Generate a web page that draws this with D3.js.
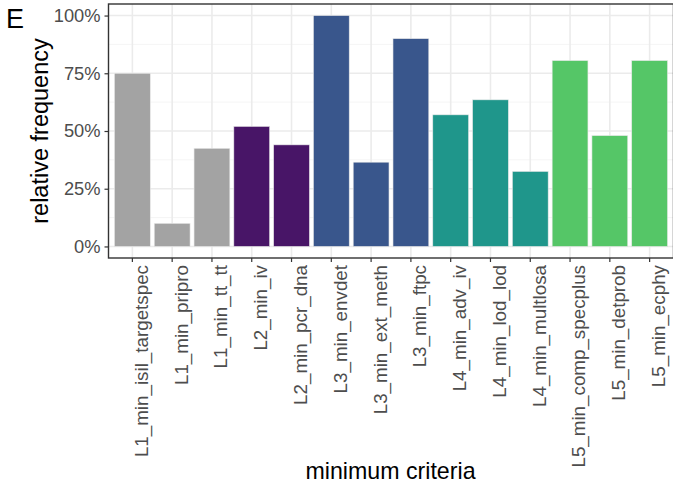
<!DOCTYPE html>
<html>
<head>
<meta charset="utf-8">
<script src="https://cdn.jsdelivr.net/npm/d3@7"></script>
<style>
  html, body { margin: 0; padding: 0; background: #fff; }
  svg { display: block; font-family: "Liberation Sans", Arial, sans-serif; }
</style>
</head>
<body>
<svg id="chart" width="673" height="488"></svg>
<script>
// Minimum criteria and their relative frequency
const criteria = [
  "L1_min_isil_targetspec", "L1_min_pripro", "L1_min_tt_tt",
  "L2_min_iv", "L2_min_pcr_dna",
  "L3_min_envdet", "L3_min_ext_meth", "L3_min_ftpc",
  "L4_min_adv_iv", "L4_min_lod_lod", "L4_min_multlosa",
  "L5_min_comp_specplus", "L5_min_detprob", "L5_min_ecphy"
];
const frequency = [0.75, 0.10, 0.425, 0.52, 0.44, 1.00, 0.365, 0.90, 0.57, 0.635, 0.325, 0.805, 0.48, 0.805];
const level = ["L1", "L1", "L1", "L2", "L2", "L3", "L3", "L3", "L4", "L4", "L4", "L5", "L5", "L5"];
const levels = ["L1", "L2", "L3", "L4", "L5"];
const levelColors = ["#A3A3A3", "#481567", "#39568C", "#1F968B", "#55C667"];
const yTicks = [0, 0.25, 0.5, 0.75, 1];
const yMinor = [0.125, 0.375, 0.625, 0.875];

const svg = d3.select("#chart");
const panel = { left: 108.5, right: 673.5, top: 4, bottom: 258 };

// Discrete axis: 0.6 units of expansion on each side, bars 0.9 units wide
const unit = (panel.right - panel.left) / (criteria.length - 1 + 1.2);
const x = d3.scaleBand()
  .domain(criteria)
  .range([panel.left + 0.1 * unit, panel.right - 0.1 * unit])
  .paddingInner(0.1).paddingOuter(0.05);

const y = d3.scaleLinear()
  .domain([-0.05, 1.05])
  .range([panel.bottom, panel.top]);

const color = d3.scaleOrdinal().domain(levels).range(levelColors);

// Grid
const grid = svg.append("g");
grid.selectAll("line.minor").data(yMinor).join("line")
  .attr("x1", panel.left).attr("x2", panel.right)
  .attr("y1", d => y(d)).attr("y2", d => y(d))
  .attr("stroke", "#F2F2F2").attr("stroke-width", 0.8);
grid.selectAll("line.majory").data(yTicks).join("line")
  .attr("x1", panel.left).attr("x2", panel.right)
  .attr("y1", d => y(d)).attr("y2", d => y(d))
  .attr("stroke", "#EBEBEB").attr("stroke-width", 1.6);
grid.selectAll("line.majorx").data(criteria).join("line")
  .attr("x1", d => x(d) + x.bandwidth() / 2).attr("x2", d => x(d) + x.bandwidth() / 2)
  .attr("y1", panel.top).attr("y2", panel.bottom)
  .attr("stroke", "#EBEBEB").attr("stroke-width", 1.6);

// Bars
svg.append("g").selectAll("rect").data(criteria).join("rect")
  .attr("x", d => x(d))
  .attr("width", x.bandwidth())
  .attr("y", (d, i) => y(frequency[i]))
  .attr("height", (d, i) => y(0) - y(frequency[i]))
  .attr("fill", (d, i) => color(level[i]))
  .attr("stroke", "#E8E8E8").attr("stroke-width", 0.6);

// Panel border
svg.append("rect")
  .attr("x", panel.left).attr("y", panel.top)
  .attr("width", panel.right - panel.left).attr("height", panel.bottom - panel.top)
  .attr("fill", "none").attr("stroke", "#333333").attr("stroke-width", 1.4);

// Axes
const yAxis = svg.append("g")
  .attr("transform", `translate(${panel.left},0)`)
  .call(d3.axisLeft(y).tickValues(yTicks).tickFormat(d3.format(".0%")).tickSize(4).tickPadding(4));
yAxis.select(".domain").remove();
yAxis.selectAll(".tick line").attr("stroke", "#333333").attr("stroke-width", 1.2);
yAxis.selectAll(".tick text").attr("fill", "#4D4D4D").attr("font-size", 18.3);

const xAxis = svg.append("g")
  .attr("transform", `translate(0,${panel.bottom})`)
  .call(d3.axisBottom(x).tickSize(4).tickPadding(3));
xAxis.select(".domain").remove();
xAxis.selectAll(".tick line").attr("stroke", "#333333").attr("stroke-width", 1.2);
xAxis.selectAll(".tick text")
  .attr("fill", "#4D4D4D").attr("font-size", 18.8)
  .attr("transform", "rotate(-90)")
  .attr("text-anchor", "end")
  .attr("x", -7).attr("y", 0).attr("dy", "0.82em");

// Axis titles
svg.append("text")
  .attr("transform", `translate(48,${(y(0) + y(1)) / 2}) rotate(-90)`)
  .attr("text-anchor", "middle")
  .attr("font-size", 23.5).attr("fill", "#000")
  .text("relative frequency");
svg.append("text")
  .attr("x", (panel.left + panel.right) / 2 - 0.5).attr("y", 479)
  .attr("text-anchor", "middle")
  .attr("font-size", 23.2).attr("fill", "#000")
  .text("minimum criteria");

// Panel tag
svg.append("text")
  .attr("x", 6).attr("y", 28)
  .attr("font-size", 27).attr("fill", "#000")
  .text("E");
</script>
</body>
</html>
